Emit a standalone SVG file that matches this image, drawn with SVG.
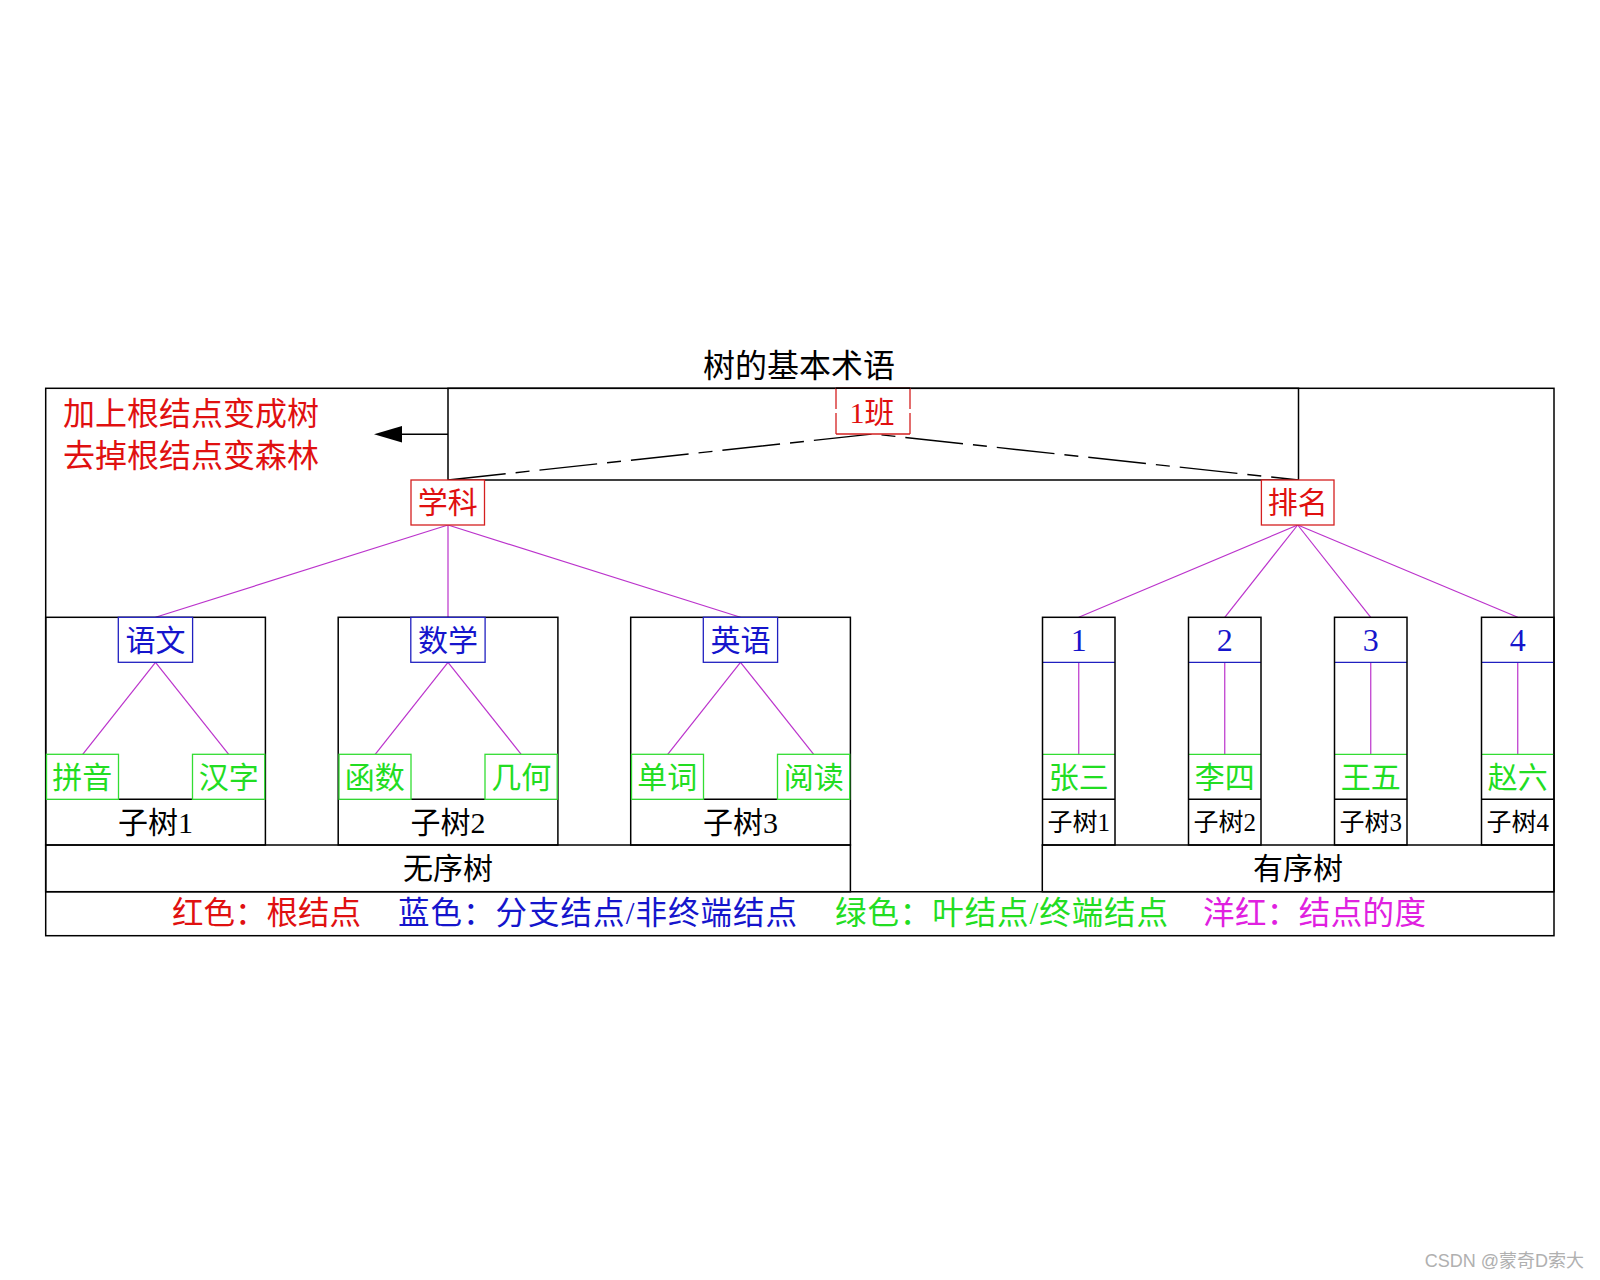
<svg xmlns="http://www.w3.org/2000/svg" width="1600" height="1280" viewBox="0 0 1600 1280">
<style>
text{font-family:'Liberation Serif','Noto Sans CJK SC',serif;dominant-baseline:central;text-anchor:middle}
.blk{fill:none;stroke:#000;stroke-width:1.5}
.red{fill:#fff;stroke:#d42020;stroke-width:1.3}
.blue{fill:#fff;stroke:#2020c0;stroke-width:1.3}
.grn{fill:#fff;stroke:#33dd33;stroke-width:1.3}
.tr{fill:#e01010;font-size:30px}
.tb{fill:#1515cc;font-size:30px}
.tg{fill:#22dd22;font-size:30px}
.tk{fill:#000;font-size:30px}
.mag{stroke:#bb33cc;stroke-width:1.2;fill:none}
.lg{font-size:31.5px;text-anchor:start}
</style>
<rect width="1600" height="1280" fill="#fff"/>

<g id="frames">
<rect class="blk" x="45.7" y="388.3" width="1508.3" height="547.4"/>
<rect class="blk" x="448" y="388.3" width="850.5" height="91.7"/>
<line class="blk" x1="45.7" y1="891.7" x2="1554" y2="891.7"/>
</g>

<g id="title"><text x="799" y="366" style="font-size:32px;fill:#000">树的基本术语</text></g>
<g id="note">
<text x="63" y="413.7" style="font-size:32px;fill:#e01010;text-anchor:start">加上根结点变成树</text>
<text x="63" y="455.5" style="font-size:32px;fill:#e01010;text-anchor:start">去掉根结点变森林</text>
</g>

<g id="connectors">
<path d="M448,480 L873,434 L1298.5,480" fill="none" stroke="#000" stroke-width="1.4" stroke-dasharray="58 10 14 10"/>
<line x1="448" y1="434.3" x2="400" y2="434.3" stroke="#000" stroke-width="1.5"/>
<polygon points="374,434.3 402,426 402,442.6" fill="#000"/>
<line class="mag" x1="448" y1="525" x2="155.5" y2="617.3"/>
<line class="mag" x1="448" y1="525" x2="448" y2="617.3"/>
<line class="mag" x1="448" y1="525" x2="740.5" y2="617.3"/>
<line class="mag" x1="155.5" y1="662.3" x2="82.7" y2="754.3"/>
<line class="mag" x1="155.5" y1="662.3" x2="228.7" y2="754.3"/>
<line class="mag" x1="448" y1="662.3" x2="375.2" y2="754.3"/>
<line class="mag" x1="448" y1="662.3" x2="521.2" y2="754.3"/>
<line class="mag" x1="740.5" y1="662.3" x2="667.7" y2="754.3"/>
<line class="mag" x1="740.5" y1="662.3" x2="813.7" y2="754.3"/>
<line class="mag" x1="1297.7" y1="525" x2="1078.75" y2="617.3"/>
<line class="mag" x1="1297.7" y1="525" x2="1224.75" y2="617.3"/>
<line class="mag" x1="1297.7" y1="525" x2="1370.75" y2="617.3"/>
<line class="mag" x1="1297.7" y1="525" x2="1517.75" y2="617.3"/>
<line class="mag" x1="1078.75" y1="662.3" x2="1078.75" y2="754.3"/>
<line class="mag" x1="1224.75" y1="662.3" x2="1224.75" y2="754.3"/>
<line class="mag" x1="1370.75" y1="662.3" x2="1370.75" y2="754.3"/>
<line class="mag" x1="1517.75" y1="662.3" x2="1517.75" y2="754.3"/>
</g>

<g id="root">
<rect x="836" y="388.3" width="74" height="45.7" fill="#fff" stroke="none"/>
<path d="M836,388.3 H910 M836,434 H910 M836,388.3 V409 M836,413 V434 M910,388.3 V409 M910,413 V434" stroke="#d42020" stroke-width="1.3" fill="none"/>
<line x1="836" y1="388.3" x2="910" y2="388.3" stroke="#000" stroke-width="1.5"/>
<text class="tr" x="872" y="412">1班</text>
</g>
<g id="n-xueke"><rect class="red" x="411" y="480" width="73.5" height="45"/><text class="tr" x="447.7" y="502.5">学科</text></g>
<g id="n-paiming"><rect class="red" x="1261.4" y="480" width="72.6" height="45"/><text class="tr" x="1297.7" y="502.5">排名</text></g>

<g id="subtree1">
<rect class="blk" x="45.7" y="617.3" width="219.7" height="227.7"/>
<line class="blk" x1="45.7" y1="799.3" x2="265.4" y2="799.3"/>
<text class="tk" x="155.5" y="822">子树1</text>
</g>
<g id="subtree2">
<rect class="blk" x="338.2" y="617.3" width="219.7" height="227.7"/>
<line class="blk" x1="338.2" y1="799.3" x2="557.9" y2="799.3"/>
<text class="tk" x="448" y="822">子树2</text>
</g>
<g id="subtree3">
<rect class="blk" x="630.7" y="617.3" width="219.7" height="227.7"/>
<line class="blk" x1="630.7" y1="799.3" x2="850.4" y2="799.3"/>
<text class="tk" x="740.5" y="822">子树3</text>
</g>

<g id="n-yuwen"><rect class="blue" x="118.3" y="617.3" width="74.3" height="45"/><text class="tb" x="155.5" y="640">语文</text></g>
<g id="n-shuxue"><rect class="blue" x="410.8" y="617.3" width="74.3" height="45"/><text class="tb" x="448" y="640">数学</text></g>
<g id="n-yingyu"><rect class="blue" x="703.3" y="617.3" width="74.3" height="45"/><text class="tb" x="740.5" y="640">英语</text></g>

<g id="n-pinyin"><rect class="grn" x="46.5" y="754.3" width="72" height="45"/><text class="tg" x="82.3" y="777">拼音</text></g>
<g id="n-hanzi"><rect class="grn" x="192.5" y="754.3" width="72.2" height="45"/><text class="tg" x="228.7" y="777">汉字</text></g>
<g id="n-hanshu"><rect class="grn" x="339" y="754.3" width="72" height="45"/><text class="tg" x="374.8" y="777">函数</text></g>
<g id="n-jihe"><rect class="grn" x="485" y="754.3" width="72.2" height="45"/><text class="tg" x="521.2" y="777">几何</text></g>
<g id="n-danci"><rect class="grn" x="631.5" y="754.3" width="72" height="45"/><text class="tg" x="667.3" y="777">单词</text></g>
<g id="n-yuedu"><rect class="grn" x="777.5" y="754.3" width="72.2" height="45"/><text class="tg" x="813.7" y="777">阅读</text></g>

<g id="ordered1">
<line x1="1042.5" y1="662.3" x2="1115" y2="662.3" stroke="#2020c0" stroke-width="1.3"/>
<line x1="1042.5" y1="754.3" x2="1115" y2="754.3" stroke="#33dd33" stroke-width="1.3"/>
<rect class="blk" x="1042.5" y="617.3" width="72.5" height="227.7"/>
<line class="blk" x1="1042.5" y1="799.3" x2="1115" y2="799.3"/>
<text x="1078.75" y="640" style="fill:#1515cc;font-size:32px">1</text>
<text class="tg" x="1078.75" y="777">张三</text>
<text x="1078.75" y="822" style="fill:#000;font-size:25px">子树1</text>
</g>
<g id="ordered2">
<line x1="1188.5" y1="662.3" x2="1261" y2="662.3" stroke="#2020c0" stroke-width="1.3"/>
<line x1="1188.5" y1="754.3" x2="1261" y2="754.3" stroke="#33dd33" stroke-width="1.3"/>
<rect class="blk" x="1188.5" y="617.3" width="72.5" height="227.7"/>
<line class="blk" x1="1188.5" y1="799.3" x2="1261" y2="799.3"/>
<text x="1224.75" y="640" style="fill:#1515cc;font-size:32px">2</text>
<text class="tg" x="1224.75" y="777">李四</text>
<text x="1224.75" y="822" style="fill:#000;font-size:25px">子树2</text>
</g>
<g id="ordered3">
<line x1="1334.5" y1="662.3" x2="1407" y2="662.3" stroke="#2020c0" stroke-width="1.3"/>
<line x1="1334.5" y1="754.3" x2="1407" y2="754.3" stroke="#33dd33" stroke-width="1.3"/>
<rect class="blk" x="1334.5" y="617.3" width="72.5" height="227.7"/>
<line class="blk" x1="1334.5" y1="799.3" x2="1407" y2="799.3"/>
<text x="1370.75" y="640" style="fill:#1515cc;font-size:32px">3</text>
<text class="tg" x="1370.75" y="777">王五</text>
<text x="1370.75" y="822" style="fill:#000;font-size:25px">子树3</text>
</g>
<g id="ordered4">
<line x1="1481.5" y1="662.3" x2="1554" y2="662.3" stroke="#2020c0" stroke-width="1.3"/>
<line x1="1481.5" y1="754.3" x2="1554" y2="754.3" stroke="#33dd33" stroke-width="1.3"/>
<rect class="blk" x="1481.5" y="617.3" width="72.5" height="227.7"/>
<line class="blk" x1="1481.5" y1="799.3" x2="1554" y2="799.3"/>
<text x="1517.75" y="640" style="fill:#1515cc;font-size:32px">4</text>
<text class="tg" x="1517.75" y="777">赵六</text>
<text x="1517.75" y="822" style="fill:#000;font-size:25px">子树4</text>
</g>

<g id="unordered-label">
<rect class="blk" x="45.7" y="845" width="804.7" height="46.7"/>
<text class="tk" x="448" y="868.5">无序树</text>
</g>
<g id="ordered-label">
<rect class="blk" x="1042.3" y="845" width="511.7" height="46.7"/>
<text class="tk" x="1298" y="868.5">有序树</text>
</g>

<g id="legend">
<text class="lg" x="172" y="913.7" style="fill:#e01010" textLength="189" lengthAdjust="spacing">红色：根结点</text>
<text class="lg" x="398" y="913.7" style="fill:#1515cc" textLength="399" lengthAdjust="spacing">蓝色：分支结点/非终端结点</text>
<text class="lg" x="835" y="913.7" style="fill:#22dd22" textLength="333" lengthAdjust="spacing">绿色：叶结点/终端结点</text>
<text class="lg" x="1203" y="913.7" style="fill:#e020e0" textLength="223" lengthAdjust="spacing">洋红：结点的度</text>
</g>

<g id="watermark"><text x="1584" y="1261" style="font-family:'Liberation Sans','Noto Sans CJK SC',sans-serif;font-size:18px;fill:#b0b0b0;text-anchor:end">CSDN @蒙奇D索大</text></g>
</svg>
